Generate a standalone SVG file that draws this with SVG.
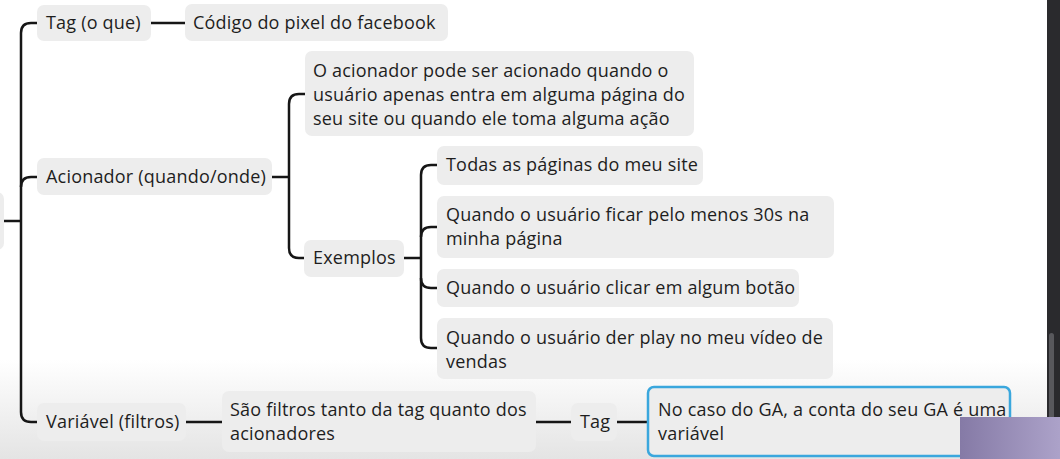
<svg xmlns="http://www.w3.org/2000/svg" width="1060" height="459" viewBox="0 0 1060 459">
  <defs>
    <linearGradient id="bgfade" x1="0" y1="0" x2="0" y2="1">
      <stop offset="0" stop-color="#ffffff"/>
      <stop offset="1" stop-color="#e4e4e4"/>
    </linearGradient>
    <linearGradient id="purple" x1="0" y1="0" x2="1" y2="0">
      <stop offset="0" stop-color="#857aa6"/>
      <stop offset="1" stop-color="#aca2c9"/>
    </linearGradient>
  </defs>
  <style>
    .node rect { fill: #ededed; }
    .node text { font-family: "Open Sans", "Noto Sans", sans-serif; font-size: 18px; letter-spacing: 0.2px; fill: #1e1e1e; }
    .sel rect { stroke: #3aa7dd; stroke-width: 2.5; }
    .edges path { fill: none; stroke: #161616; stroke-width: 2.5; stroke-linecap: butt; }
  </style>
  <rect x="0" y="0" width="1060" height="459" fill="#ffffff"/>
  <rect x="0" y="360" width="1060" height="99" fill="url(#bgfade)"/>

  <g class="edges" id="connectors">
    <path d="M3,221 H21"/>
    <path d="M37,23 H31 Q21,23 21,33 V412 Q21,422 31,422 H37"/>
    <path d="M21,187 Q21,177 31,177 H37"/>
    <path d="M151,23 H185"/>
    <path d="M272,177 H289"/>
    <path d="M305,94 H299 Q289,94 289,104 V248 Q289,258 299,258 H304"/>
    <path d="M404,258 H421"/>
    <path d="M437,165 H431 Q421,165 421,175 V338 Q421,348 431,348 H437"/>
    <path d="M421,237 Q421,227 431,227 H437"/>
    <path d="M421,278 Q421,288 431,288 H437"/>
    <path d="M186,422 H222"/>
    <path d="M536,422 H571"/>
    <path d="M617,422 H648"/>
  </g>

  <g class="node" id="root"><rect x="-100" y="192" width="104" height="58" rx="7"/></g>
  <g class="node" id="n-tag"><rect x="37" y="5" width="114" height="36" rx="7"/><text x="46" y="29">Tag (o que)</text></g>
  <g class="node" id="n-codigo"><rect x="185" y="4" width="263" height="37" rx="7"/><text x="193" y="29">Código do pixel do facebook</text></g>
  <g class="node" id="n-acionador"><rect x="37" y="158" width="235" height="37" rx="7"/><text x="46" y="183">Acionador (quando/onde)</text></g>
  <g class="node" id="n-desc"><rect x="305" y="51" width="389" height="85" rx="7"/><text x="313" y="77">O acionador pode ser acionado quando o</text><text x="313" y="101">usuário apenas entra em alguma página do</text><text x="313" y="125">seu site ou quando ele toma alguma ação</text></g>
  <g class="node" id="n-exemplos"><rect x="304" y="240" width="100" height="37" rx="7"/><text x="313" y="264">Exemplos</text></g>
  <g class="node" id="n-todas"><rect x="437" y="146" width="266" height="39" rx="7"/><text x="446" y="171">Todas as páginas do meu site</text></g>
  <g class="node" id="n-ficar"><rect x="437" y="196" width="397" height="62" rx="7"/><text x="446" y="221">Quando o usuário ficar pelo menos 30s na</text><text x="446" y="245">minha página</text></g>
  <g class="node" id="n-clicar"><rect x="437" y="269" width="362" height="38" rx="7"/><text x="446" y="294">Quando o usuário clicar em algum botão</text></g>
  <g class="node" id="n-play"><rect x="437" y="318" width="396" height="61" rx="7"/><text x="446" y="344">Quando o usuário der play no meu vídeo de</text><text x="446" y="368">vendas</text></g>
  <g class="node" id="n-variavel"><rect x="37" y="403" width="149" height="38" rx="7"/><text x="46" y="428">Variável (filtros)</text></g>
  <g class="node" id="n-sao"><rect x="222" y="391" width="314" height="61" rx="7"/><text x="230" y="416">São filtros tanto da tag quanto dos</text><text x="230" y="440">acionadores</text></g>
  <g class="node" id="n-tag2"><rect x="571" y="403" width="46" height="38" rx="7"/><text x="580" y="428">Tag</text></g>
  <g class="node sel" id="n-ga"><rect x="648" y="387" width="362" height="69" rx="6"/><text x="658" y="416">No caso do GA, a conta do seu GA é uma</text><text x="658" y="440">variável</text></g>

  <rect x="1047" y="0" width="13" height="459" fill="#2a2a2d"/>
  <rect x="1049" y="333" width="5" height="126" rx="2.5" fill="#58585c"/>
  <rect x="960" y="417" width="100" height="42" fill="url(#purple)"/>
</svg>
